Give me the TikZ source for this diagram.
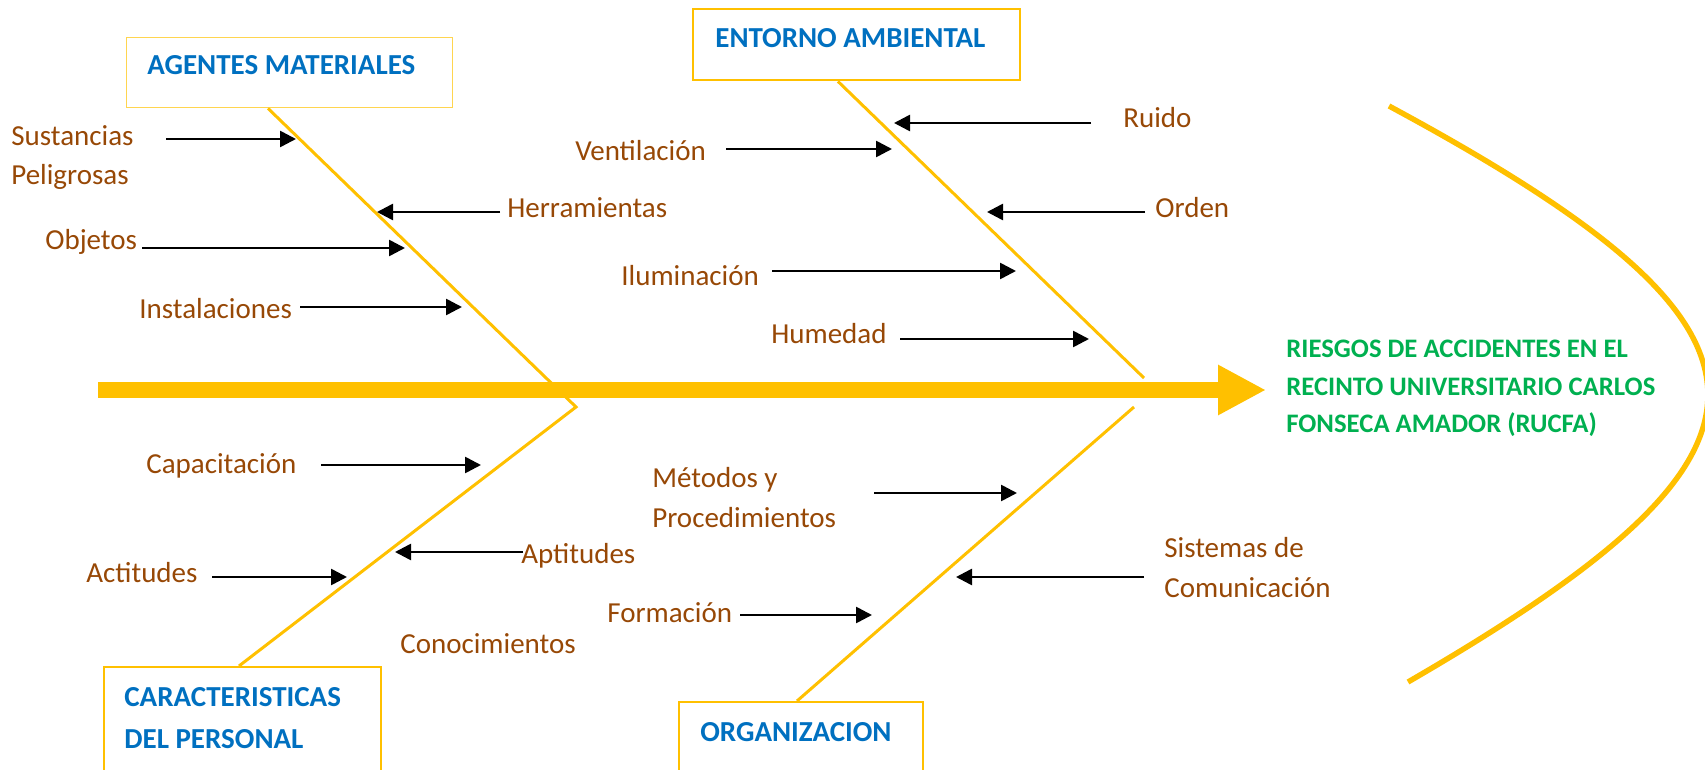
\documentclass[tikz,border=0pt]{standalone}
\usepackage{fontspec}
\setmainfont{Carlito}
\usepackage{tikz}
\usetikzlibrary{arrows.meta, calc}

\definecolor{gold}{HTML}{FFC000}
\definecolor{palegold}{HTML}{FFD54F}
\definecolor{headblue}{HTML}{0070C0}
\definecolor{causebrown}{HTML}{974806}
\definecolor{effectgreen}{HTML}{00B050}

\begin{document}
\begin{tikzpicture}[x=0.02cm, y=-0.02cm,
            catbox/.style={draw=gold, line width=1.4pt, rectangle, anchor=north west, inner sep=0pt},
            cathead/.style={anchor=base west, inner sep=0pt, text=headblue, align=left, font=\fontsize{16.5}{23.8}\selectfont\bfseries},
            cause/.style={anchor=base west, inner sep=0pt, text=causebrown, align=left, font=\fontsize{16.5}{22.7}\selectfont},
            effect/.style={anchor=base west, inner sep=0pt, text=effectgreen, align=left, font=\fontsize{15.2}{21.5}\selectfont\bfseries},
            bone/.style={draw=gold, line width=1.7pt},
            spine/.style={draw=gold, line width=0.32cm, -{Triangle[length=0.96cm, width=0.94cm]}},
            bracket/.style={draw=gold, line width=3.1pt},
            arrow/.style={-{Triangle[length=0.32cm, width=0.32cm]}, line width=1.5pt}]

            \useasboundingbox (0,0) rectangle (1705,770);

            % category boxes
            \node[catbox, draw=palegold, line width=0.8pt, minimum width=6.52cm, minimum height=1.4cm] (agentes) at (126,37) {};
            \node[catbox, minimum width=6.54cm, minimum height=1.42cm] (entorno) at (692,8) {};
            \node[catbox, minimum width=5.54cm, minimum height=2.1cm] (personal) at (103,666) {};
            \node[catbox, minimum width=4.88cm, minimum height=1.4cm] (organizacion) at (678,701) {};

            % multi-line nodes sit on their last baseline
            \node[cathead] (agentesT) at (147,75) {AGENTES MATERIALES};
            \node[cathead] (entornoT) at (715,48) {ENTORNO AMBIENTAL};
            \node[cathead] (personalT) at (124,748) {CARACTERISTICAS\\DEL PERSONAL};
            \node[cathead] (organizacionT) at (700,741) {ORGANIZACION};

            % bones
            \coordinate (jointL) at (576,407);
            \coordinate (endR) at (1144,378);
            \coordinate (startR) at (1134,407);
            \draw[bone] ($(agentes.south west)+(142,0)$) -- (jointL) -- ($(personal.north west)+(136,0)$);
            \draw[bone] ($(entorno.south west)+(146,0)$) -- (endR);
            \draw[bone] (startR) -- ($(organizacion.north west)+(119,0)$);

            % effect
            \node[effect] (effect) at (1286,433) {RIESGOS DE ACCIDENTES EN EL\\RECINTO UNIVERSITARIO CARLOS\\FONSECA AMADOR (RUCFA)};
            \coordinate (tail) at (98,390);
            \draw[spine, shorten >=0.4cm] (tail) -- (tail -| effect.west);
            \draw[bracket] (1389,106) .. controls (1812,334) and (1810,449) .. (1408,682);

            % causes
            \node[cause] (sustancias) at (11,185) {Sustancias\\Peligrosas};
            \node[cause] (herramientas) at (507,218) {Herramientas};
            \node[cause] (objetos) at (45,250) {Objetos};
            \node[cause] (instalaciones) at (139,318) {Instalaciones};
            \node[cause] (ruido) at (1123,128) {Ruido};
            \node[cause] (ventilacion) at (575,161) {Ventilación};
            \node[cause] (orden) at (1155,218) {Orden};
            \node[cause] (iluminacion) at (621,286) {Iluminación};
            \node[cause] (humedad) at (771,344) {Humedad};
            \node[cause] (capacitacion) at (146,473) {Capacitación};
            \node[cause] (aptitudes) at (521,563) {Aptitudes};
            \node[cause] (actitudes) at (86,582) {Actitudes};
            \node[cause] (conocimientos) at (400,653) {Conocimientos};
            \node[cause] (metodos) at (652,527) {Métodos y\\Procedimientos};
            \node[cause] (sistemas) at (1164,597) {Sistemas de\\Comunicación};
            \node[cause] (formacion) at (607,622) {Formación};

            \coordinate (sustanciasT) at (166,139);    \coordinate (sustanciasH) at (296,139);
            \coordinate (herramientasT) at (500,212);  \coordinate (herramientasH) at (377,212);
            \coordinate (objetosT) at (142,248);       \coordinate (objetosH) at (405,248);
            \coordinate (instalacionesT) at (300,307); \coordinate (instalacionesH) at (462,307);
            \coordinate (ruidoT) at (1091,123);        \coordinate (ruidoH) at (894,123);
            \coordinate (ventilacionT) at (726,149);   \coordinate (ventilacionH) at (892,149);
            \coordinate (ordenT) at (1145,212);        \coordinate (ordenH) at (987,212);
            \coordinate (iluminacionT) at (772,271);   \coordinate (iluminacionH) at (1016,271);
            \coordinate (humedadT) at (900,339);       \coordinate (humedadH) at (1089,339);
            \coordinate (capacitacionT) at (321,465);  \coordinate (capacitacionH) at (481,465);
            \coordinate (aptitudesT) at (523,552);     \coordinate (aptitudesH) at (395,552);
            \coordinate (actitudesT) at (212,577);     \coordinate (actitudesH) at (347,577);
            \coordinate (metodosT) at (874,493);       \coordinate (metodosH) at (1017,493);
            \coordinate (sistemasT) at (1144,577);     \coordinate (sistemasH) at (956,577);
            \coordinate (formacionT) at (740,615);     \coordinate (formacionH) at (872,615);

            \draw[arrow] (sustanciasT) -- (sustanciasH);
            \draw[arrow] (herramientasT) -- (herramientasH);
            \draw[arrow] (objetosT) -- (objetosH);
            \draw[arrow] (instalacionesT) -- (instalacionesH);
            \draw[arrow] (ruidoT) -- (ruidoH);
            \draw[arrow] (ventilacionT) -- (ventilacionH);
            \draw[arrow] (ordenT) -- (ordenH);
            \draw[arrow] (iluminacionT) -- (iluminacionH);
            \draw[arrow] (humedadT) -- (humedadH);
            \draw[arrow] (capacitacionT) -- (capacitacionH);
            \draw[arrow] (aptitudesT) -- (aptitudesH);
            \draw[arrow] (actitudesT) -- (actitudesH);
            \draw[arrow] (metodosT) -- (metodosH);
            \draw[arrow] (sistemasT) -- (sistemasH);
            \draw[arrow] (formacionT) -- (formacionH);
        \end{tikzpicture}
\end{document}
